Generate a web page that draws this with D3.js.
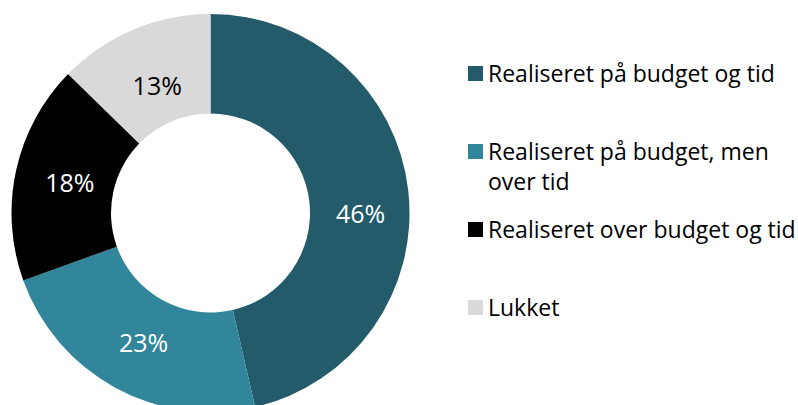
<!DOCTYPE html>
<html>
<head>
<meta charset="utf-8">
<script src="https://cdn.jsdelivr.net/npm/d3@7"></script>
<style>
  body { margin: 0; background: #fff; }
  svg { display: block; font-family: "Open Sans", "Noto Sans", sans-serif; }
</style>
</head>
<body>
<svg id="chart" width="798" height="405"></svg>
<script>
// data
const kategorier = ["Realiseret på budget og tid", "Realiseret på budget, men over tid", "Realiseret over budget og tid", "Lukket"];
const andele = [46.4, 23.1, 17.8, 12.7];
const farver = ["#235b6b", "#31869b", "#000000", "#d9d9d9"];
const labelFarver = ["#ffffff", "#ffffff", "#ffffff", "#000000"];
// legend lines (the 2nd one wraps)
const legendLinjer = [["Realiseret på budget og tid"], ["Realiseret på budget, men", "over tid"], ["Realiseret over budget og tid"], ["Lukket"]];

const svg = d3.select("#chart");
const cx = 210.5, cy = 213;
const rYdre = 199, rIndre = 99.5;

const total = d3.sum(andele);
const pie = d3.pie().sort(null).value(d => d);
const arc = d3.arc().innerRadius(rIndre).outerRadius(rYdre);
const labelArc = d3.arc().innerRadius(150).outerRadius(150);
const fmt = d3.format(".0%");
// excel flytter labels lidt rundt
const nudge = [[1, 18], [5, -1], [6, 2], [5, 11]];

const g = svg.append("g").attr("transform", `translate(${cx},${cy})`);

const slices = pie(andele);

g.selectAll("path")
  .data(slices)
  .join("path")
    .attr("d", arc)
    .attr("fill", (d, i) => farver[i]);

g.selectAll("text")
  .data(slices)
  .join("text")
    .attr("transform", (d, i) => {
      const [x, y] = labelArc.centroid(d);
      return `translate(${x + nudge[i][0]},${y + nudge[i][1]})`;
    })
    .attr("text-anchor", "middle")
    .attr("dy", "0.35em")
    .attr("font-size", 25)
    .attr("fill", (d, i) => labelFarver[i])
    .text(d => fmt(d.data / total));

// legende
const legendY = d3.scaleLinear().domain([0, 3]).range([73.5, 307.5]);

const leg = svg.append("g")
  .selectAll("g")
  .data(kategorier)
  .join("g")
    .attr("transform", (d, i) => `translate(468,${legendY(i)})`);

leg.append("rect")
  .attr("x", 0)
  .attr("y", -7.5)
  .attr("width", 15)
  .attr("height", 15)
  .attr("fill", (d, i) => farver[i]);

leg.append("text")
  .attr("x", 20)
  .attr("font-size", 23)
  .attr("fill", "#000")
  .each(function(d, i) {
    d3.select(this).selectAll("tspan")
      .data(legendLinjer[i])
      .join("tspan")
        .attr("x", 20)
        .attr("dy", (t, j) => j == 0 ? "0.35em" : 30)
        .text(t => t);
  });
</script>
</body>
</html>
